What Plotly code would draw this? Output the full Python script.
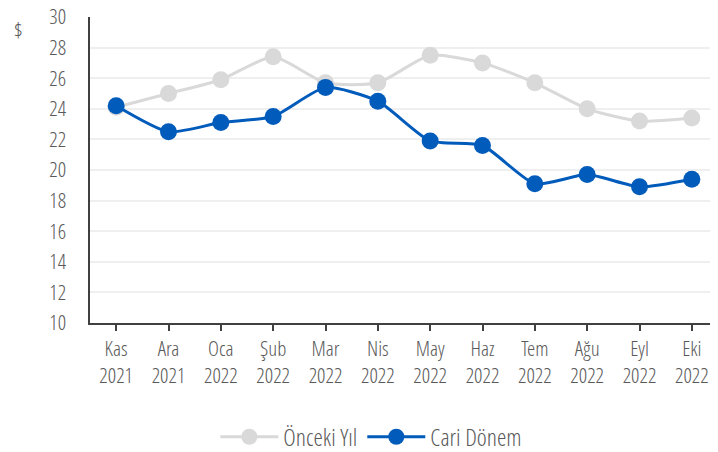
import plotly.graph_objects as go

categories = ["Kas<br>2021", "Ara<br>2021", "Oca<br>2022", "Şub<br>2022", "Mar<br>2022", "Nis<br>2022",
              "May<br>2022", "Haz<br>2022", "Tem<br>2022", "Ağu<br>2022", "Eyl<br>2022", "Eki<br>2022"]
onceki_yil = [24.1, 25.0, 25.9, 27.4, 25.7, 25.7, 27.5, 27.0, 25.7, 24.0, 23.2, 23.4]
cari_donem = [24.2, 22.5, 23.1, 23.5, 25.4, 24.5, 21.9, 21.6, 19.1, 19.7, 18.9, 19.4]
y_ticks = [10, 12, 14, 16, 18, 20, 22, 24, 26, 28, 30]

FONT = "Open Sans Condensed Light, Open Sans, sans-serif"
TXT = "#595959"
FS = 21

fig = go.Figure()
fig.add_trace(go.Scatter(
    x=categories, y=onceki_yil, name="Önceki Yıl", mode="lines+markers",
    line=dict(color="#d9d9d9", width=3, shape="spline", smoothing=0.6),
    marker=dict(color="#d9d9d9", size=17),
))
fig.add_trace(go.Scatter(
    x=categories, y=cari_donem, name="Cari Dönem", mode="lines+markers",
    line=dict(color="#005bbb", width=3, shape="spline", smoothing=0.6),
    marker=dict(color="#005bbb", size=17),
))

fig.update_layout(
    width=718, height=452,
    margin=dict(l=82, r=8, t=9, b=137, autoexpand=False),
    paper_bgcolor="white", plot_bgcolor="white",
    font=dict(family=FONT, size=FS, color=TXT, weight=300),
    showlegend=True,
    legend=dict(orientation="h", x=0.448, xanchor="center", y=-0.373, yanchor="middle",
                font=dict(family=FONT, size=24, color=TXT, weight=300), itemwidth=58,
                traceorder="normal"),
    xaxis=dict(type="category", range=[-0.5, 11.5], showgrid=False, automargin=False,
               showline=True, linecolor="#404040", linewidth=1.5,
               ticks="outside", ticklen=6, tickcolor="#404040", tickwidth=1.5,
               tickfont=dict(family=FONT, size=FS, color=TXT, weight=300)),
    yaxis=dict(range=[10, 30], tickvals=y_ticks, showgrid=True, gridcolor="#efefef", gridwidth=2,
               showline=True, linecolor="#404040", linewidth=1.5, ticks="", ticklabelstandoff=18,
               zeroline=False, automargin=False, ticklabeloverflow="allow",
               tickfont=dict(family=FONT, size=FS, color=TXT, weight=300)),
    annotations=[dict(text="$", xref="paper", yref="paper", x=-0.115, y=0.96, xanchor="center",
                      yanchor="middle", showarrow=False,
                      font=dict(family=FONT, size=FS, color=TXT, weight=300))],
)

fig.write_html("out.html")
